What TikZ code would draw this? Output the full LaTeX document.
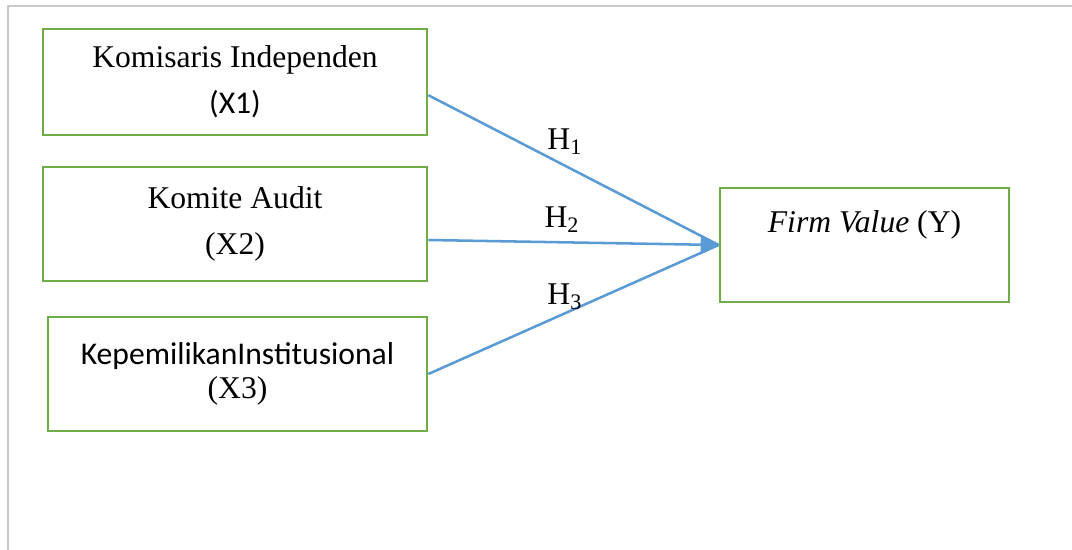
\documentclass[tikz,border=0pt]{standalone}
\usepackage{fontspec}
\setmainfont{Liberation Serif}
\newfontfamily\calibri{Carlito}
\usepackage{tikz}
\usetikzlibrary{arrows.meta, positioning, calc}
\definecolor{boxgreen}{HTML}{70AD47}
\definecolor{linkblue}{HTML}{5B9BD5}
\definecolor{framegray}{HTML}{C8C8C8}

\begin{document}
\begin{tikzpicture}[
    every node/.style={font=\fontsize{22.5pt}{31pt}\selectfont},
    varbox/.style={draw=boxgreen, line width=1.9pt, rectangle, align=center, inner sep=0pt},
    link/.style={draw=linkblue, line width=1.8pt},
    hyp/.style={inner sep=2pt}
]
    \useasboundingbox (0, 0) rectangle (26.8, -13.75);
    % Frame
    \draw[framegray, line width=1.5pt] (26.8, -0.15) -- (0.2, -0.15) -- (0.2, -13.75);

    % Boxes
    \node[varbox, minimum width=9.6cm, minimum height=2.65cm] (x1) at (5.875, -2.05)
        {Komisaris Independen\\[0.05cm]{\calibri (X1)}};
    \node[varbox, minimum width=9.6cm, minimum height=2.85cm] (x2) at (5.875, -5.6)
        {Komite Audit\\[0.05cm](X2)};
    \node[varbox, minimum width=9.475cm, minimum height=2.85cm] (x3) at (5.9375, -9.35)
        {{\calibri KepemilikanInstitusional}\\[-0.25cm](X3)};
    \node[varbox, minimum width=7.225cm, minimum height=2.85cm] (fv) at (21.6125, -6.125)
        {\textit{Firm Value} (Y)\\[-0.25cm]\strut};

    % Hypotheses
    \draw[link] ([yshift=-0.33cm]x1.east) -- (fv.west)
        node[hyp, pos=0.47, above=0.18cm] (h1) {H\textsubscript{1}};
    \draw[link] (x3.east) -- (fv.west)
        node[hyp, pos=0.47, above=0.0cm] (h3) {H\textsubscript{3}};
    \draw[link, -{Triangle[length=0.45cm, width=0.48cm]}] ([yshift=-0.4cm]x2.east) -- (fv.west)
        node[hyp, pos=0.46, above=0.15cm] (h2) {H\textsubscript{2}};
\end{tikzpicture}
\end{document}
